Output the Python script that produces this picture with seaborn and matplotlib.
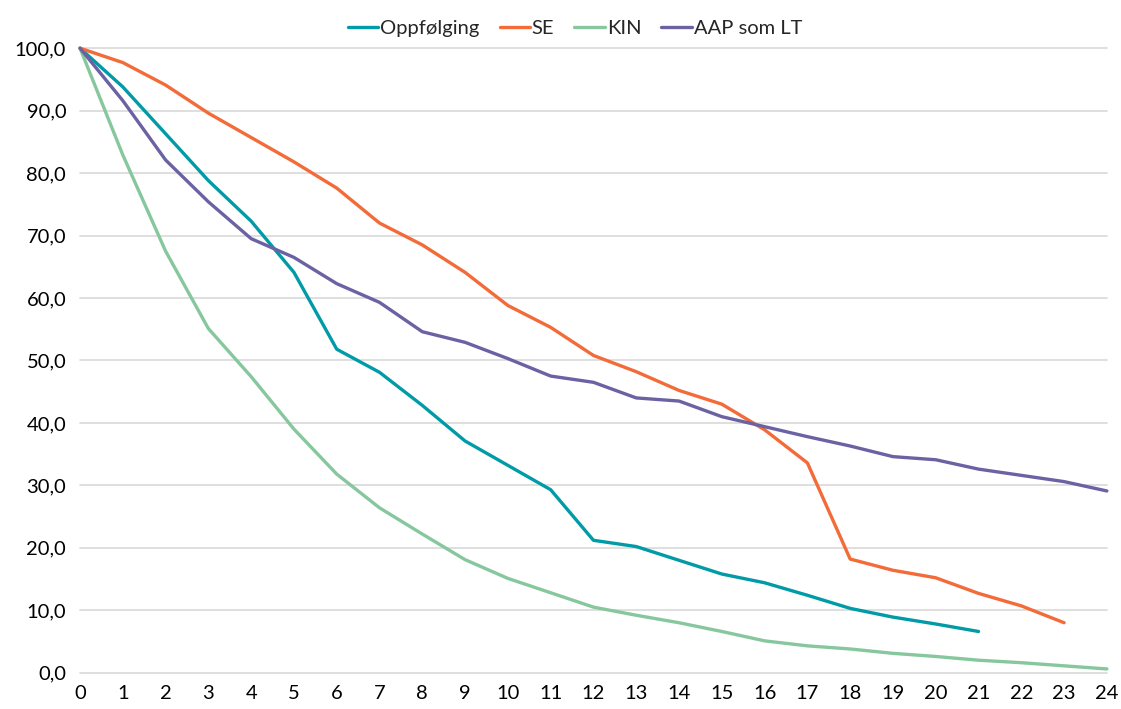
import numpy as np
import pandas as pd
import matplotlib
matplotlib.use("Agg")
import matplotlib.pyplot as plt
import seaborn as sns
from matplotlib.ticker import FuncFormatter

# Remaining share (%) per month for each group
months = list(range(0, 25))

oppfolging = [100.0, 93.8, 86.3, 78.8, 72.3, 64.1, 51.8, 48.1, 42.8, 37.1, 33.2, 29.3,
              21.2, 20.2, 18.0, 15.8, 14.4, 12.4, 10.3, 8.9, 7.8, 6.6]
se = [100.0, 97.7, 94.1, 89.6, 85.7, 81.8, 77.6, 72.0, 68.5, 64.1, 58.8, 55.3,
      50.8, 48.2, 45.2, 43.0, 38.9, 33.6, 18.2, 16.4, 15.2, 12.7, 10.7, 8.0]
kin = [100.0, 82.9, 67.5, 55.1, 47.4, 39.0, 31.8, 26.4, 22.2, 18.1, 15.1, 12.8,
       10.5, 9.2, 8.0, 6.6, 5.1, 4.3, 3.8, 3.1, 2.6, 2.0, 1.6, 1.1, 0.6]
aap_lt = [100.0, 91.6, 82.1, 75.4, 69.5, 66.5, 62.3, 59.3, 54.6, 52.9, 50.3, 47.5,
          46.5, 44.0, 43.5, 41.0, 39.4, 37.8, 36.3, 34.6, 34.1, 32.6, 31.6, 30.6, 29.1]

series_names = ["Oppfølging", "SE", "KIN", "AAP som LT"]
series_values = [oppfolging, se, kin, aap_lt]
colors = ["#009BA6", "#F26B38", "#86C79D", "#6A62A2"]

frames = []
for name, vals in zip(series_names, series_values):
    frames.append(pd.DataFrame({"måned": months[:len(vals)], "andel": vals, "gruppe": name}))
df = pd.concat(frames, ignore_index=True)

sns.set_theme(style="white")
plt.rcParams["font.family"] = ["Lato", "DejaVu Sans"]

fig = plt.figure(figsize=(11.21, 7.09), dpi=100)
ax = fig.add_axes([0.0714, 0.0512, 0.916, 0.8808])

sns.lineplot(data=df, x="måned", y="andel", hue="gruppe", hue_order=series_names,
             palette=colors, linewidth=2.4, ax=ax, legend=True)

ax.set_xlim(0, 24)
ax.set_ylim(0, 100)
ax.set_xticks(months)
ax.set_yticks(np.arange(0, 101, 10))
ax.yaxis.set_major_formatter(FuncFormatter(lambda v, p: f"{v:.1f}".replace(".", ",")))
ax.grid(axis="y", color="#D9D9D9", linewidth=1.2)
ax.set_axisbelow(True)
for gl in ax.get_ygridlines():
    gl.set_clip_on(False)
for s in ax.spines.values():
    s.set_visible(False)
ax.tick_params(axis="both", length=0, labelsize=14.5, colors="black")
ax.tick_params(axis="x", pad=9)
ax.tick_params(axis="y", pad=10)
ax.set_xlabel("")
ax.set_ylabel("")

for ln in ax.get_lines():
    ln.set_clip_on(False)

handles, labels = ax.get_legend_handles_labels()
ax.legend(handles, labels, loc="upper center", bbox_to_anchor=(0.482, 1.075), ncol=4,
          frameon=False, fontsize=14.5, handlelength=1.5, handletextpad=0.1,
          columnspacing=1.0)

fig.savefig("out.png", dpi=100)
